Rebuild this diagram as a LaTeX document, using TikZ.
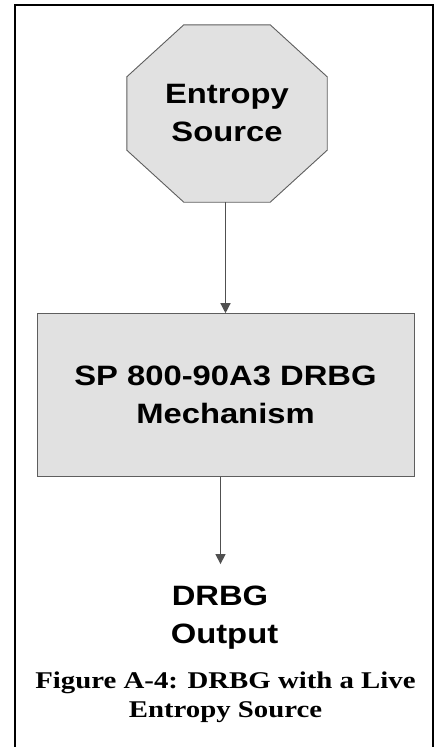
\documentclass[tikz,border=0pt]{standalone}
\usepackage{fontspec}
\setmainfont{Liberation Serif}
\newfontfamily\blockfont[FakeStretch=1.17]{Liberation Sans}
\newfontfamily\capfont[FakeStretch=1.2]{Liberation Serif}
\usepackage{tikz}
\usetikzlibrary{arrows.meta, positioning, backgrounds}

\definecolor{blockfill}{HTML}{E1E1E1}
\definecolor{blockline}{HTML}{5E5E5E}
\definecolor{flowline}{HTML}{505050}

\begin{document}
\begin{tikzpicture}[
        x=1pt, y=1pt,
        blocktext/.style={align=center, font=\blockfont\bfseries\fontsize{28pt}{38pt}\selectfont},
        boxline/.style={draw=blockline, fill=blockfill, line width=0.9pt},
        source/.style={blocktext, rectangle, minimum width=200pt, minimum height=177pt, inner sep=0pt},
        mechanism/.style={blocktext, boxline, rectangle, minimum width=377pt, minimum height=163pt},
        outtext/.style={blocktext, inner xsep=0pt, inner ysep=22pt},
        figcaption/.style={align=center, inner sep=0pt,
            font=\capfont\bfseries\fontsize{24pt}{29pt}\selectfont},
        flow/.style={-{Triangle[width=10pt, length=10pt]}, draw=flowline, line width=1.3pt}
    ]
    \useasboundingbox (0,0) rectangle (436,-747);

    % outer frame, open at the bottom
    \draw[line width=2pt] (15,-747) -- (15,-5) -- (432.5,-5) -- (432.5,-747);

    % blocks
    \node[source] (src) at (227,-113.5) {Entropy\\Source};
    \begin{scope}[on background layer]
        % octagon round the entropy source
        \draw[boxline] ([xshift=57pt]src.north west) -- ([xshift=-57pt]src.north east)
            -- ([yshift=-52pt]src.north east) -- ([yshift=52pt]src.south east)
            -- ([xshift=-57pt]src.south east) -- ([xshift=57pt]src.south west)
            -- ([yshift=52pt]src.south west) -- ([yshift=-52pt]src.north west) -- cycle;
    \end{scope}
    \node[mechanism, below=111pt of src, xshift=-1.5pt] (mech) {SP 800-90A3 DRBG\\Mechanism};
    \node[outtext, below=87pt of mech, xshift=-1pt] (out) {DRBG\kern9pt\\Output};

    \draw[flow] (mech.north |- src.south) -- (mech.north);
    \draw[flow] ([xshift=-5pt]mech.south) -- ([xshift=-5pt]mech.south |- out.north);

    % caption
    \node[figcaption, below=0pt of out, xshift=1pt] (cap) {Figure A-4: DRBG with a Live\\Entropy Source};

\end{tikzpicture}
\end{document}
